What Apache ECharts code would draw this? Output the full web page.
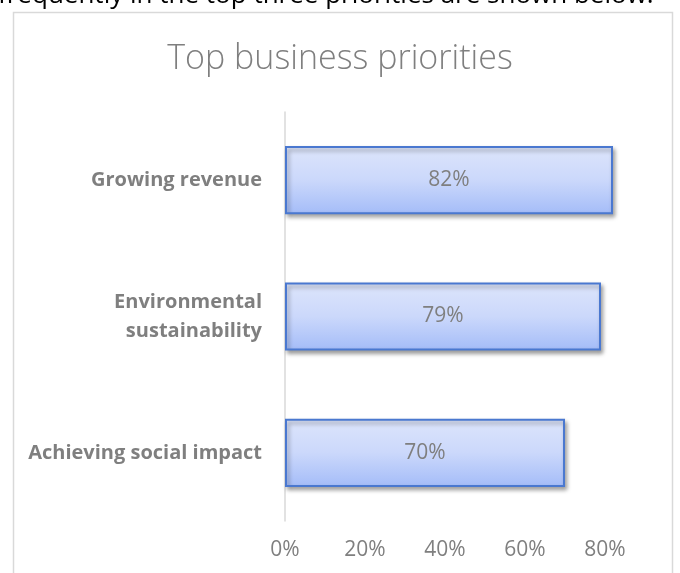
<!DOCTYPE html>
<html>
<head>
<meta charset="utf-8">
<script src="https://cdn.jsdelivr.net/npm/echarts@6/dist/echarts.min.js"></script>
<style>
  html, body { margin: 0; padding: 0; background: #ffffff; }
  #chart { width: 680px; height: 573px; }
</style>
</head>
<body>
<div id="chart"></div>
<script>
// Survey results: share of respondents ranking each priority in their top three
const categories = ['Achieving social impact', 'Environmental\nsustainability', 'Growing revenue'];
const shares = [70, 79, 82];
const tickValues = [0, 20, 40, 60, 80];
const chartTitle = 'Top business priorities';
const introLine = 'frequently in the top three priorities are shown below.';

const FONT = '"Open Sans", Lato, sans-serif';
const chart = echarts.init(document.getElementById('chart'), null, { renderer: 'canvas' });

chart.setOption({
  animation: false,
  backgroundColor: '#ffffff',
  title: {
    text: chartTitle,
    left: 'center',
    top: 37,
    textStyle: { fontFamily: FONT, fontWeight: 300, fontSize: 34, color: '#7f7f7f' }
  },
  graphic: [
    {
      // Last line of the paragraph above the chart, scrolled mostly out of view
      type: 'text',
      left: -2,
      top: -17,
      style: { text: introLine, font: '26px ' + FONT, fill: '#000000' }
    },
    {
      type: 'rect',
      shape: { x: 13.5, y: 12.5, width: 659, height: 600 },
      style: { fill: 'none', stroke: '#d9d9d9', lineWidth: 1.5 },
      z: -1
    }
  ],
  grid: { left: 285, right: 35, top: 112, bottom: 52, containLabel: false },
  xAxis: {
    type: 'value',
    min: 0,
    max: 90,
    interval: 20,
    axisLine: { show: false },
    axisTick: { show: false },
    splitLine: { show: false },
    axisLabel: {
      showMaxLabel: false,
      margin: 19,
      fontFamily: FONT,
      fontSize: 21,
      color: '#7f7f7f',
      formatter: v => (tickValues.includes(v) ? v + '%' : '')
    }
  },
  yAxis: {
    type: 'category',
    data: categories,
    axisLine: { show: true, lineStyle: { color: '#d9d9d9', width: 1.5 } },
    axisTick: { show: false },
    axisLabel: {
      margin: 23,
      fontFamily: FONT,
      fontWeight: 'bold',
      fontSize: 20,
      lineHeight: 29,
      color: '#7f7f7f',
      align: 'right'
    }
  },
  series: [{
    type: 'bar',
    data: shares,
    barCategoryGap: '50%',
    itemStyle: {
      color: new echarts.graphic.LinearGradient(0, 0, 0, 1, [
        { offset: 0, color: '#dde5fb' },
        { offset: 0.5, color: '#cbd8fb' },
        { offset: 1, color: '#a4bcf8' }
      ]),
      borderColor: '#4a78d0',
      borderWidth: 2,
      shadowColor: 'rgba(0,0,0,0.35)',
      shadowBlur: 4,
      shadowOffsetX: 2,
      shadowOffsetY: 3
    },
    label: {
      show: true,
      position: 'inside',
      formatter: p => p.value + '%',
      fontFamily: FONT,
      fontSize: 21,
      color: '#7f7f7f'
    }
  }]
});
</script>
</body>
</html>
